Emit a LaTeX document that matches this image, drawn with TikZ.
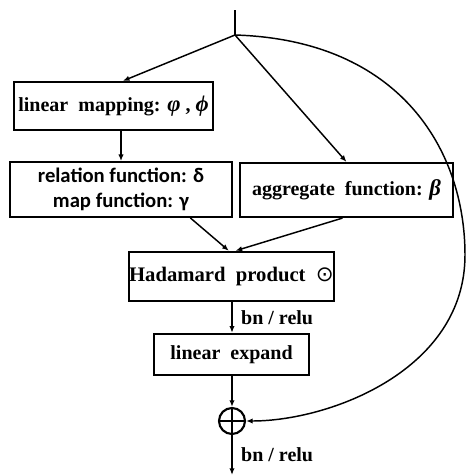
\documentclass[tikz,border=0pt]{standalone}
\usepackage{amsmath}
\usepackage{fontspec}
\setmainfont{Liberation Serif}
\newfontfamily\calib{Carlito}
\newfontfamily\dejavu{DejaVu Sans}
\usetikzlibrary{arrows.meta}
\newcommand{\grk}[1]{{\fontsize{17}{18}\selectfont\itshape #1}}

\begin{document}
\begin{tikzpicture}[x=0.75pt, y=-0.75pt,
  block/.style = {draw, line width=1.6pt, inner sep=0pt, align=center,
                  font=\fontsize{15}{18}\selectfont\bfseries},
  conn/.style = {line width=1.1pt, -{Latex[length=5pt,width=4pt]}},
  lbl/.style = {font=\fontsize{15}{18}\selectfont\bfseries, anchor=west},
  summ/.style = {circle, draw, line width=1.6pt, minimum size=19.5pt, inner sep=0pt,
                 path picture={\draw[line width=1.4pt]
                   (path picture bounding box.north) -- (path picture bounding box.south)
                   (path picture bounding box.west) -- (path picture bounding box.east);}},
  ]
  \useasboundingbox (0,0) rectangle (466,475);

  \coordinate (top) at (235,10);
  \coordinate (split) at (235,35);
  \coordinate (out) at (232,475);

  \node[block, minimum width=149pt, minimum height=36pt] (lin) at (113.5,106)
    {linear\ \ mapping: \grk{φ} , \grk{ϕ}};
  \node[block, minimum width=166.5pt, minimum height=41pt,
        font=\fontsize{15.5}{19}\selectfont\calib\bfseries] (rel) at (121,189.5)
    {relation function: δ\\map function: γ};
  \node[block, minimum width=160pt, minimum height=40.5pt] (agg) at (346.5,190)
    {aggregate\ \ function: \grk{β}};
  \node[block, minimum width=152pt, minimum height=37pt,
        font=\fontsize{15.5}{18}\selectfont\bfseries] (had) at (231.5,276.5)
    {Hadamard\ \ product\ \ {\fontsize{16}{18}\dejavu\mdseries ⊙}};
  \node[block, minimum width=116pt, minimum height=31pt] (exp) at (231.5,354.5)
    {linear\ \ expand};
  \node[summ] (sum) at (232,421) {};

  % trunk and branches
  \draw[line width=1.1pt] (top) -- (split);
  \draw[conn] (split) -- ([xshift=7pt]lin.north);
  \draw[conn] (split) -- (agg.north);
  \draw[conn] (rel.north |- lin.south) -- (rel.north);
  \draw[conn] ([xshift=52pt]rel.south) -- ([xshift=-2pt]had.north);
  \draw[conn] ([xshift=-3pt]agg.south) -- ([xshift=3pt]had.north);

  % bottom part
  \draw[conn] (sum.north |- had.south) -- (sum.north |- exp.north)
    node[lbl, midway, xshift=3pt] {bn / relu};
  \draw[conn] (sum.north |- exp.south) -- (sum.north);
  \draw[conn] (sum.south) -- (out)
    node[lbl, pos=0.5, xshift=3pt] {bn / relu};

  % shortcut
  \draw[conn] (split) .. controls (400,40) and (465,150) .. (465,255)
    .. controls (465,370) and (330,421) .. (sum.east);
\end{tikzpicture}
\end{document}
